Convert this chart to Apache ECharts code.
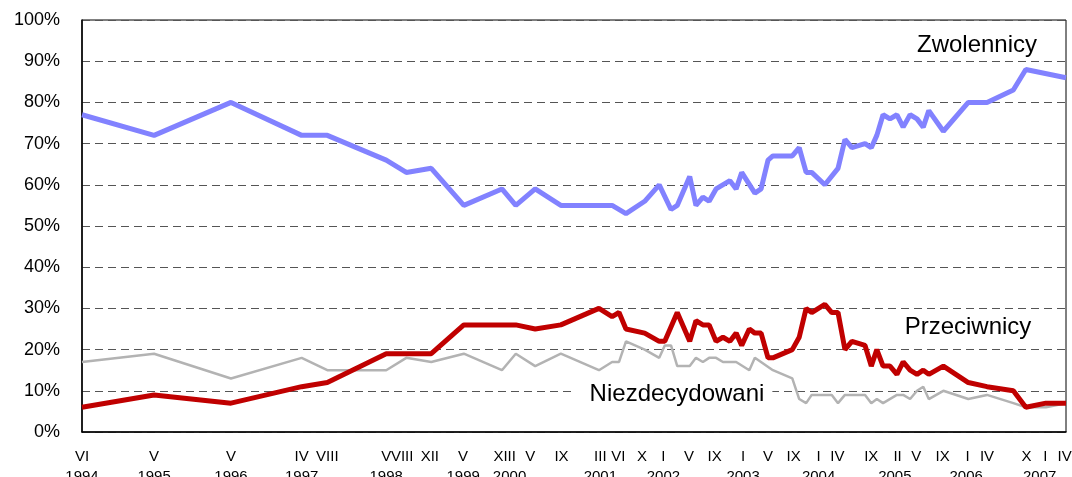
<!DOCTYPE html>
<html>
<head>
<meta charset="utf-8">
<script src="https://cdn.jsdelivr.net/npm/echarts@6/dist/echarts.min.js"></script>
<style>
  html, body { margin: 0; padding: 0; background: #fff; }
  #chart { width: 1072px; height: 477px; }
</style>
</head>
<body>
<div id="chart"></div>
<script>
// survey positions (months counted from VI 1994)
const surveyT = [0, 10.4, 21.5, 31.7, 35.4, 43.9, 46.8, 50.4, 55.1, 60.6, 62.6, 65.4, 69.1, 74.6, 76.5, 77.5,
  78.5, 81.2, 83.3, 84.1, 85.0, 85.9, 87.7, 88.6, 89.6, 90.5, 91.5, 92.5, 93.5, 94.4, 95.2, 96.3,
  97.1, 98.0, 99.0, 99.7, 102.5, 103.5, 104.5, 105.3, 107.2, 108.2, 109.1, 110.1, 111.1, 112.0, 113.0, 113.9,
  114.7, 115.6, 116.6, 117.6, 118.5, 119.5, 120.5, 121.4, 122.2, 124.3, 127.9, 130.6, 134.4, 136.2, 139.1, 142]

// Zwolennicy
const zwolennicy = [77, 72, 80, 72, 72, 66, 63, 64, 55, 59, 55, 59, 55, 55, 55, null,
  53, 56, 60, null, 54, 55, 62, 55, 57, 56, 59, null, 61, 59, 63, null,
  58, 59, 66, 67, 67, 69, 63, 63, 60, null, 64, 71, 69, null, 70, 69,
  72, 77, 76, 77, 74, 77, 76, 74, 78, 73, 80, 80, 83, 88, null, 86]

// Przeciwnicy
const przeciwnicy = [6, 9, 7, 11, 12, 19, 19, 19, 26, 26, 26, 25, 26, 30, 28, 29,
  25, 24, 22, 22, null, 29, 22, 27, 26, 26, 22, 23, 22, 24, 21, 25,
  24, 24, 18, 18, 20, 23, 30, 29, 31, 29, 29, 20, 22, null, 21, 16,
  20, 16, 16, 14, 17, 15, 14, 15, 14, 16, 12, 11, 10, 6, 7, 7]

// Niezdecydowani
const niezdecydowani = [17, 19, 13, 18, 15, 15, 18, 17, 19, 15, 19, 16, 19, 15, 17, 17,
  22, 20, 18, 21, 21, 16, 16, 18, 17, 18, 18, 17, null, 17, null, 15,
  18, null, null, 15, 13, 8, 7, 9, 9, 9, 7, 9, null, 9, 9, 7,
  8, 7, null, 9, 9, 8, 10, 11, 8, 10, 8, 9, 7, 6, 6, 7]

// x axis labels: months (first row) and years (second row)
const monthT = [0, 10.4, 21.5, 31.7, 35.4, 43.9, 46.2, 50.2, 55.0, 61.0, 64.7, 69.2,
  74.8, 77.4, 80.8, 83.9, 87.6, 91.3, 95.4, 99.0, 102.7, 106.3, 109.0,
  113.9, 117.7, 120.4, 124.2, 127.8, 130.6, 136.3, 139.0, 141.8]
const monthLabels = ['VI', 'V', 'V', 'IV', 'VIII', 'V', 'VIII', 'XII', 'V', 'XIII', 'V', 'IX',
  'III', 'VI', 'X', 'I', 'V', 'IX', 'I', 'V', 'IX', 'I', 'IV',
  'IX', 'II', 'V', 'IX', 'I', 'IV', 'X', 'I', 'IV']
const yearT = [0, 10.4, 21.5, 31.7, 43.9, 55.0, 61.7, 74.8, 83.9, 95.4, 106.3, 117.3, 127.6, 138.2]
const yearLabels = ['1994', '1995', '1996', '1997', '1998', '1999', '2000', '2001', '2002', '2003',
  '2004', '2005', '2006', '2007']

const FONT = '"Liberation Sans", Arial, sans-serif'

function pairs (vals) {
  return surveyT.map((t, i) => [t, vals[i]]).filter(p => p[1] !== null)
}

function labelAxis (ticks, texts, margin, showLine) {
  return {
    type: 'value',
    position: 'bottom',
    min: 0,
    max: 142,
    axisLine: { show: showLine, lineStyle: { color: '#000', width: 1.5 } },
    axisTick: { show: false },
    splitLine: { show: false },
    axisLabel: {
      customValues: ticks,
      showMinLabel: true,
      showMaxLabel: true,
      hideOverlap: false,
      margin: margin,
      color: '#000',
      fontFamily: FONT,
      fontSize: 15,
      lineHeight: 20,
      verticalAlign: 'top',
      formatter: v => {
        let i = ticks.indexOf(v)
        return i < 0 ? '' : texts[i]
      }
    }
  }
}

let myChart = echarts.init(document.getElementById('chart'))
let option = {
  animation: false,
  backgroundColor: '#fff',
  grid: {
    left: 82,
    top: 20,
    right: 6,
    bottom: 45,
    show: true,
    borderColor: '#000',
    borderWidth: 1,
    outerBoundsMode: 'none'
  },
  xAxis: [
    labelAxis(monthT, monthLabels, 15, true),
    labelAxis(yearT, yearLabels, 35, false)
  ],
  yAxis: {
    type: 'value',
    min: 0,
    max: 100,
    interval: 10,
    axisLine: { show: true, lineStyle: { color: '#000', width: 1.5 } },
    axisTick: { show: false },
    axisLabel: {
      formatter: '{value}%',
      margin: 22,
      color: '#000',
      fontFamily: FONT,
      fontSize: 18
    },
    splitLine: {
      show: true,
      lineStyle: { color: '#555', width: 1, type: [8, 5] }
    }
  },
  series: [
    {
      name: 'Niezdecydowani',
      type: 'line',
      symbol: 'none',
      data: pairs(niezdecydowani),
      lineStyle: { color: '#b3b3b3', width: 2.5 }
    },
    {
      name: 'Przeciwnicy',
      type: 'line',
      symbol: 'none',
      data: pairs(przeciwnicy),
      lineStyle: { color: '#c00000', width: 5 }
    },
    {
      name: 'Zwolennicy',
      type: 'line',
      symbol: 'none',
      data: pairs(zwolennicy),
      lineStyle: { color: '#8282ff', width: 5 }
    }
  ],
  graphic: [
    {
      type: 'text', x: 977, y: 45,
      style: { text: 'Zwolennicy', font: '24px ' + FONT, fill: '#000', textAlign: 'center', textVerticalAlign: 'middle' }
    },
    {
      type: 'text', x: 968, y: 327,
      style: { text: 'Przeciwnicy', font: '24px ' + FONT, fill: '#000', textAlign: 'center', textVerticalAlign: 'middle' }
    },
    {
      type: 'text', x: 674, y: 394, z: 10,
      style: {
        text: 'Niezdecydowani', font: '24px ' + FONT, fill: '#000',
        textAlign: 'center', textVerticalAlign: 'middle',
        backgroundColor: '#fff', padding: [0, 8, 0, 14]
      }
    }
  ]
}
myChart.setOption(option)
</script>
</body>
</html>
